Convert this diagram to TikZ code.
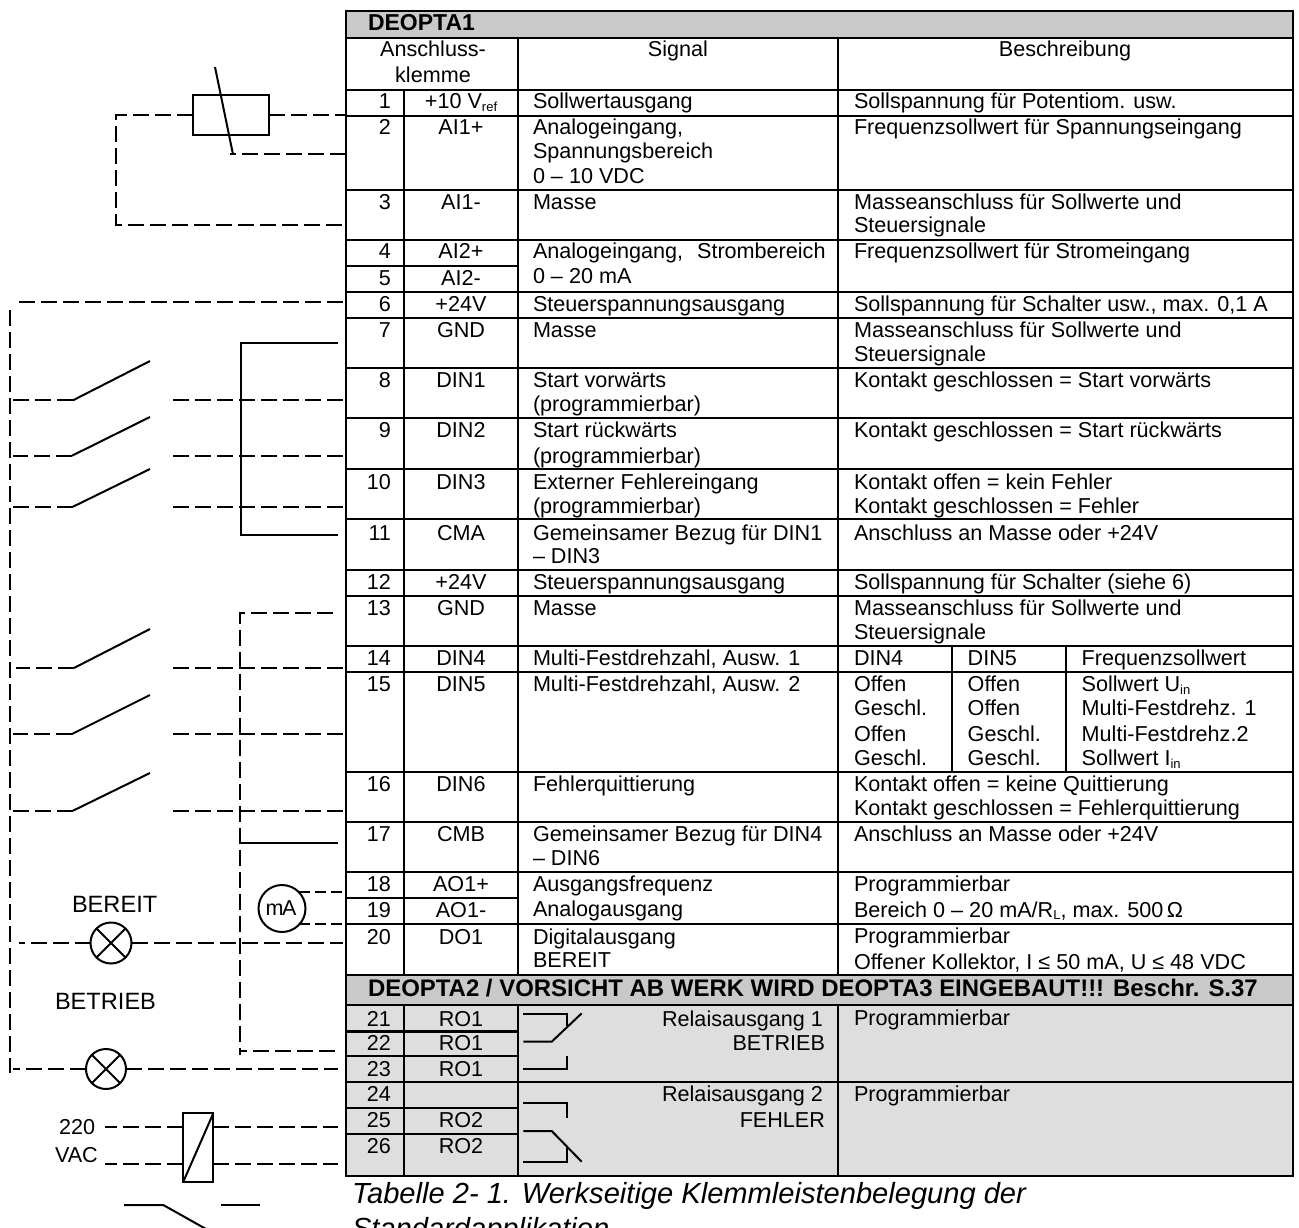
\documentclass[tikz,border=0pt]{standalone}
\usepackage{fontspec}
\setmainfont{Liberation Sans}
\newcounter{lblc}
\tikzset{
  lbl/.style={inner sep=0pt,outer sep=0pt,font=\fontsize{21.6}{24}\selectfont},
  wire/.style={line width=2pt,line cap=butt,dash pattern=on 16pt off 6pt},
  solidw/.style={line width=2pt},
  grid/.style={line width=2.9pt},
  thin grid/.style={line width=1.4pt},
  compbox/.style={draw,line width=2pt,inner sep=0pt,outer sep=0pt},
  round/.style={draw,circle,line width=2pt,inner sep=0pt,outer sep=0pt},
}
\newcommand{\cAt}[5][lbl]{\stepcounter{lblc}\node[#1,anchor=#2] (lbl\arabic{lblc}) at (#3,#4) {#5};}
\newcommand{\cNum}[2]{\cAt{base east}{391}{#1}{#2}}
\newcommand{\cTer}[2]{\cAt{base}{461}{#1}{#2}}
\newcommand{\cSig}[2]{\cAt{base west}{533}{#1}{#2}}
\newcommand{\cDes}[2]{\cAt{base west}{854}{#1}{#2}}
\newcommand{\sbs}[1]{\raisebox{-2.5pt}{\fontsize{13}{13}\selectfont #1}}
\begin{document}
\begin{tikzpicture}[x=1pt,y=-1pt]
\useasboundingbox (0,0) rectangle (1299,1228);
% ---------- fills
\fill[white] (0,0) rectangle (1299,1228);
\fill[black!21] (346,11) rectangle (1293,38);
\fill[black!13] (346,1005) rectangle (1293,1176);
\fill[black!21] (346,975) rectangle (1293,1005);
% ---------- table rules
\foreach \y in {38,90,116,190,240,292,318,368,418,469,519,570,596,646,672,772,822,872,924,975,1005}
  \draw[grid] (346,\y) -- (1293,\y);
\foreach \y in {266,898,1031.5,1056,1108,1134}
  \draw[grid] (346,\y) -- (518,\y);
\draw[grid] (346,1082) -- (518,1082);
\draw[thin grid,line width=1.8pt] (518,1082) -- (1293,1082);
\draw[grid] (404,90) -- (404,975) (404,1005) -- (404,1176);
\draw[grid] (518,38) -- (518,975) (518,1005) -- (518,1176);
\draw[grid] (838,38) -- (838,975);
\draw[thin grid] (838,1005) -- (838,1056) (838,1082) -- (838,1133);
\draw[grid] (838,1056) -- (838,1082) (838,1133) -- (838,1176);
\draw[grid] (952,646) -- (952,772) (1066,646) -- (1066,772);
\draw[grid] (346,11) -- (1293,11) (346,1176) -- (1293,1176) (346,9.6) -- (346,1177.4);
\draw[grid] (1293,9.6) -- (1293,1005) (1293,1055) -- (1293,1082) (1293,1133) -- (1293,1177.4);
\draw[thin grid] (1293,1005) -- (1293,1055) (1293,1082) -- (1293,1133);
% ---------- headings
\cAt[lbl,font=\fontsize{23}{24}\selectfont\bfseries]{base west}{368}{30.7}{DEOPTA1}
\cAt{base}{433}{57}{Anschluss-}
\cAt{base}{433}{83}{klemme}
\cAt{base}{678}{57}{Signal}
\cAt{base}{1065}{57}{Beschreibung}
% ---------- rows
\cNum{109}{1}\cTer{109}{+10 V\sbs{ref}}\cSig{109}{Sollwertausgang}\cDes{109}{Sollspannung für Potentiom. usw.}
\cNum{135}{2}\cTer{135}{AI1+}\cSig{135}{Analogeingang,}\cSig{159}{Spannungsbereich}\cSig{183}{0 – 10 VDC}
\cDes{135}{Frequenzsollwert für Spannungseingang}
\cNum{209}{3}\cTer{209}{AI1-}\cSig{209}{Masse}\cDes{209}{Masseanschluss für Sollwerte und}\cDes{233}{Steuersignale}
\cNum{258}{4}\cTer{258}{AI2+}\cSig{258}{Analogeingang,\hspace{14pt}Strombereich}\cDes{258}{Frequenzsollwert für Stromeingang}
\cNum{285}{5}\cTer{285}{AI2-}\cSig{283}{0 – 20 mA}
\cNum{311}{6}\cTer{311}{+24V}\cSig{311}{Steuerspannungsausgang}\cDes{311}{Sollspannung für Schalter usw., max. 0,1 A}
\cNum{337.7}{7}\cTer{337.7}{GND}\cSig{337.7}{Masse}\cDes{337.7}{Masseanschluss für Sollwerte und}\cDes{361.7}{Steuersignale}
\cNum{387.7}{8}\cTer{387.7}{DIN1}\cSig{387.7}{Start vorwärts}\cSig{411.7}{(programmierbar)}\cDes{387.7}{Kontakt geschlossen = Start vorwärts}
\cNum{437.7}{9}\cTer{437.7}{DIN2}\cSig{437.7}{Start rückwärts}\cSig{463}{(programmierbar)}\cDes{437.7}{Kontakt geschlossen = Start rückwärts}
\cNum{489}{10}\cTer{489}{DIN3}\cSig{489}{Externer Fehlereingang}\cSig{513}{(programmierbar)}\cDes{489}{Kontakt offen = kein Fehler}\cDes{513}{Kontakt geschlossen = Fehler}
\cNum{540}{11}\cTer{540}{CMA}\cSig{540}{Gemeinsamer Bezug für DIN1}\cSig{563}{– DIN3}\cDes{540}{Anschluss an Masse oder +24V}
\cNum{589}{12}\cTer{589}{+24V}\cSig{589}{Steuerspannungsausgang}\cDes{589}{Sollspannung für Schalter (siehe 6)}
\cNum{615}{13}\cTer{615}{GND}\cSig{615}{Masse}\cDes{615}{Masseanschluss für Sollwerte und}\cDes{639}{Steuersignale}
\cNum{665.7}{14}\cTer{665.7}{DIN4}\cSig{665.7}{Multi-Festdrehzahl, Ausw. 1}
\cDes{665.7}{DIN4}\cAt{base west}{967.7}{665.7}{DIN5}\cAt{base west}{1081.7}{665.7}{Frequenzsollwert}
\cNum{691.7}{15}\cTer{691.7}{DIN5}\cSig{691.7}{Multi-Festdrehzahl, Ausw. 2}
\cDes{691.7}{Offen}\cAt{base west}{967.7}{691.7}{Offen}\cAt{base west}{1081.7}{691.7}{Sollwert U\sbs{in}}
\cDes{715.7}{Geschl.}\cAt{base west}{967.7}{715.7}{Offen}\cAt{base west}{1081.7}{715.7}{Multi-Festdrehz. 1}
\cDes{741.7}{Offen}\cAt{base west}{967.7}{741.7}{Geschl.}\cAt{base west}{1081.7}{741.7}{Multi-Festdrehz.2}
\cDes{765.7}{Geschl.}\cAt{base west}{967.7}{765.7}{Geschl.}\cAt{base west}{1081.7}{765.7}{Sollwert I\sbs{in}}
\cNum{791.7}{16}\cTer{791.7}{DIN6}\cSig{791.7}{Fehlerquittierung}\cDes{791.7}{Kontakt offen = keine Quittierung}\cDes{815.7}{Kontakt geschlossen = Fehlerquittierung}
\cNum{841.7}{17}\cTer{841.7}{CMB}\cSig{841.7}{Gemeinsamer Bezug für DIN4}\cSig{865.7}{– DIN6}\cDes{841.7}{Anschluss an Masse oder +24V}
\cNum{891.7}{18}\cTer{891.7}{AO1+}\cSig{891.7}{Ausgangsfrequenz}\cDes{891.7}{Programmierbar}
\cNum{917.7}{19}\cTer{917.7}{AO1-}\cSig{916}{Analogausgang}\cDes{917}{Bereich 0 – 20 mA/R\sbs{L}, max. 500\,Ω}
\cNum{944}{20}\cTer{944}{DO1}\cSig{944}{Digitalausgang}\cSig{967}{BEREIT}\cDes{943}{Programmierbar}\cDes{969}{Offener Kollektor, I ≤ 50 mA, U ≤ 48 VDC}
\cAt[lbl,font=\fontsize{23.95}{24}\selectfont\bfseries]{base west}{368}{996.7}{DEOPTA2 / VORSICHT AB WERK WIRD DEOPTA3 EINGEBAUT!!! Beschr. S.37}
\cNum{1026.7}{21}\cTer{1026.7}{RO1}
\cNum{1050.7}{22}\cTer{1050.7}{RO1}
\cNum{1076}{23}\cTer{1076}{RO1}
\cNum{1101.7}{24}
\cNum{1127.7}{25}\cTer{1127.7}{RO2}
\cNum{1153.3}{26}\cTer{1153.3}{RO2}
\cAt{base east}{823}{1026}{Relaisausgang 1}
\cAt{base east}{825}{1050}{BETRIEB}
\cAt{base east}{823}{1101.7}{Relaisausgang 2}
\cAt{base east}{825}{1127.7}{FEHLER}
\cDes{1025.7}{Programmierbar}
\cDes{1101.7}{Programmierbar}
\cAt[lbl,font=\fontsize{29.1}{30}\selectfont\itshape]{base west}{352}{1203}{Tabelle 2- 1. Werkseitige Klemmleistenbelegung der}
\cAt[lbl,font=\fontsize{29.1}{30}\selectfont\itshape]{base west}{352}{1238}{Standardapplikation}
% ---------- relay contacts inside the table
\draw[solidw] (523.3,1014) -- (567.3,1014) -- (567.3,1025.7);
\draw[solidw] (523.3,1041.7) -- (551.7,1041.7) -- (581.7,1013.3);
\draw[solidw] (567.3,1055.7) -- (567.3,1069.3) -- (523.3,1069.3);
\draw[solidw] (523.3,1103.3) -- (567.3,1103.3) -- (567.3,1117.7);
\draw[solidw] (523.3,1131) -- (551.7,1131) -- (581.7,1161.7);
\draw[solidw] (523.3,1161.7) -- (567.3,1161.7) -- (567.3,1146.7);
% ---------- potentiometer
\node[compbox,minimum width=76.3pt,minimum height=40pt] (pot) at (230.85,115) {};
\coordinate (t1) at (346,115);
\coordinate (t2) at (346,154.3);
\coordinate (t3) at (346,224.5);
\coordinate (potcorner) at (116,115);
\coordinate (potlow) at (116,224.5);
\coordinate (wipertop) at (215,67);
\coordinate (wiperend) at (233,154.3);
\draw[wire] (pot.east) -- (t1);
\draw[wire] (pot.west) -- (potcorner) -- (potlow) -- (t3);
\draw[solidw] (wipertop) -- (wiperend);
\coordinate (wiperstub) at (230,154.3);
\draw[wire] (t2) -- (wiperstub);
% ---------- 24 V bus and switches
\coordinate (busA) at (343,302.3);
\coordinate (busB) at (19,302.3);
\coordinate (busC) at (10,310);
\coordinate (busD) at (10,1073);
\draw[wire] (busA) -- (busB);
\draw[wire] (busC) -- (busD);
\foreach \n/\y/\bx/\by/\l in {a/400.3/73/361/13,b/455.7/72/417/13,c/506.7/73/469/13,d/668/74/629/16,e/734/72/695/13,f/810.7/73/773/13}{
  \coordinate (sw\n L) at (\l,\y);
  \coordinate (sw\n H) at (\bx,\y);
  \coordinate (sw\n T) at (150,\by);
  \coordinate (sw\n R) at (173,\y);
  \coordinate (sw\n E) at (343,\y);
  \draw[wire] (sw\n H) -- (sw\n L);
  \draw[solidw] (sw\n H) -- (sw\n T);
  \draw[wire] (sw\n E) -- (sw\n R);
}
% ---------- common returns
\coordinate (cmaA) at (338,343.3);
\coordinate (cmaB) at (241,343.3);
\coordinate (cmaC) at (241,535.3);
\coordinate (cmaD) at (338,535.3);
\draw[solidw] (cmaA) -- (cmaB) -- (cmaC) -- (cmaD);
\coordinate (gndA) at (333,612.7);
\coordinate (gndB) at (240,612.7);
\coordinate (gndC) at (240,1055);
\coordinate (gndD) at (240,1050.7);
\coordinate (gndE) at (335,1050.7);
\draw[wire] (gndA) -- (gndB) -- (gndC);
\draw[wire] (gndE) -- (gndD);
\coordinate (cmbA) at (240,843.3);
\coordinate (cmbB) at (338,843.3);
\draw[solidw] (cmbA) -- (cmbB);
% ---------- meter
\node[round,minimum size=47pt] (meter) at (282,908.5) {};
\cAt[lbl,font=\fontsize{21.5}{24}\selectfont]{base}{281}{915.7}{m\kern-1.5ptA}
\coordinate (m1) at (342,892);
\coordinate (m2) at (342,924.3);
\draw[wire,dash pattern=on 11pt off 5pt] (meter.north east |- m1) -- (m1);
\draw[wire,dash pattern=on 11pt off 5pt] (meter.south east |- m2) -- (m2);
% ---------- lamps
\node[round,minimum size=41pt,path picture={
  \draw[solidw] (path picture bounding box.north west) -- (path picture bounding box.south east);
  \draw[solidw] (path picture bounding box.north east) -- (path picture bounding box.south west);
}] (lampA) at (111,943) {};
\node[round,minimum size=40pt,path picture={
  \draw[solidw] (path picture bounding box.north west) -- (path picture bounding box.south east);
  \draw[solidw] (path picture bounding box.north east) -- (path picture bounding box.south west);
}] (lampB) at (106,1069) {};
\coordinate (lAl) at (19,943);
\coordinate (lAr) at (343,943);
\coordinate (lBl) at (13,1069);
\coordinate (lBr) at (338,1069);
\draw[wire] (lampA.west) -- (lAl);
\draw[wire] (lampA.east) -- (lAr);
\draw[wire] (lampB.west) -- (lBl);
\draw[wire] (lampB.east) -- (lBr);
\cAt[lbl,font=\fontsize{23.6}{28}\selectfont]{base west}{72}{912.7}{BEREIT}
\cAt[lbl,font=\fontsize{23.6}{28}\selectfont]{base west}{55}{1009}{BETRIEB}
% ---------- relay coil
\node[compbox,minimum width=30pt,minimum height=68.4pt] (coil) at (198.3,1147.5) {};
\draw[solidw] (coil.south west) -- (coil.north east);
\coordinate (cUL) at (105,1126.7);
\coordinate (cLL) at (105,1164.3);
\coordinate (cUR) at (338,1126.7);
\coordinate (cLR) at (338,1164.3);
\draw[wire] (coil.west |- cUL) -- (cUL);
\draw[wire] (coil.west |- cLL) -- (cLL);
\draw[wire] (coil.east |- cUR) -- (cUR);
\draw[wire] (coil.east |- cLR) -- (cLR);
\cAt{base west}{59}{1134}{220}
\cAt{base west}{55}{1162}{VAC}
% ---------- contact at the bottom
\coordinate (kA) at (124,1205);
\coordinate (kB) at (163.3,1205);
\coordinate (kC) at (206,1229);
\coordinate (kD) at (220.7,1205);
\coordinate (kE) at (260,1205);
\draw[solidw] (kA) -- (kB) -- (kC);
\draw[solidw] (kD) -- (kE);
\end{tikzpicture}
\end{document}
